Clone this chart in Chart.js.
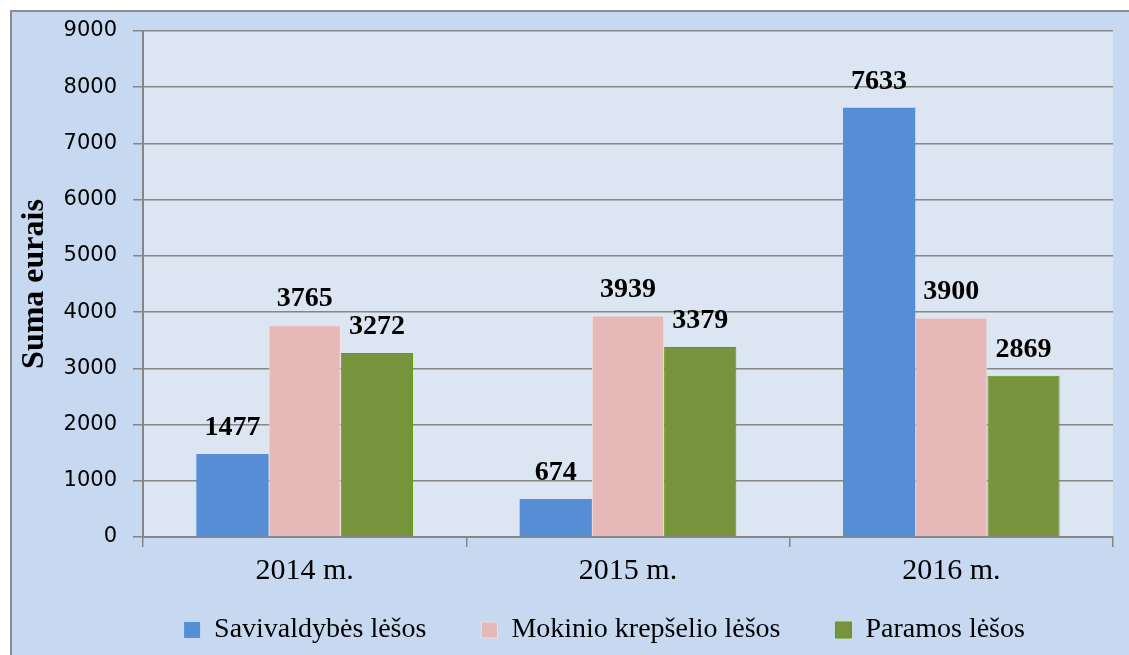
<!DOCTYPE html>
<html>
<head>
<meta charset="utf-8">
<script src="https://cdn.jsdelivr.net/npm/chart.js@4"></script>
<style>
  html, body { margin: 0; padding: 0; background: #fff; }
  #wrap { width: 1129px; height: 655px; }
</style>
</head>
<body>
<div id="wrap"><canvas id="myChart" width="1129" height="655"></canvas></div>
<script>
// values
var categories = ['2014 m.', '2015 m.', '2016 m.'];
var seriesNames = ['Savivaldybės lėšos', 'Mokinio krepšelio lėšos', 'Paramos lėšos'];
var savivaldybes = [1477, 674, 7633];
var krepselio = [3765, 3939, 3900];
var paramos = [3272, 3379, 2869];
var yMin = 0, yMax = 9000, yStep = 1000;
var yTitle = 'Suma eurais';

var gridGray = '#868686';

// outer panel, border and plot background
var panelBg = {
    id: 'panelBg',
    beforeDraw: function (chart) {
        var ctx = chart.ctx, a = chart.chartArea;
        ctx.save();
        ctx.fillStyle = '#ffffff';
        ctx.fillRect(0, 0, chart.width, chart.height);
        ctx.fillStyle = '#c6d9f1';
        ctx.fillRect(12, 12, chart.width - 12, chart.height - 12);
        ctx.fillStyle = '#8c8c8c';
        ctx.fillRect(10, 10, chart.width - 10, 2);
        ctx.fillRect(10, 10, 2, chart.height - 10);
        ctx.fillStyle = '#dce6f2';
        ctx.fillRect(a.left, a.top, a.right - a.left, a.bottom - a.top);
        ctx.restore();
    }
};

// legend sits a bit right of centre and closer to the axis labels
var legendNudge = {
    id: 'legendNudge',
    afterLayout: function (chart) {
        var l = chart.legend;
        l.left += 42;
        l.right += 42;
        l.top -= 46;
    }
};

// value labels above the bars
var barLabels = {
    id: 'barLabels',
    afterDatasetsDraw: function (chart) {
        var ctx = chart.ctx;
        ctx.save();
        ctx.font = 'bold 28px "Liberation Serif", serif';
        ctx.fillStyle = '#000';
        ctx.textAlign = 'center';
        ctx.textBaseline = 'alphabetic';
        chart.data.datasets.forEach(function (ds, i) {
            chart.getDatasetMeta(i).data.forEach(function (bar, j) {
                ctx.fillText(String(ds.data[j]), bar.x, bar.y - 19);
            });
        });
        ctx.restore();
    }
};

var ctx = document.getElementById('myChart').getContext('2d');
var myChart = new Chart(ctx, {
    type: 'bar',
    data: {
        labels: categories,
        datasets: [{
                label: seriesNames[0],
                data: savivaldybes,
                backgroundColor: '#558ed5',
                borderColor: '#558ed5',
                borderWidth: 0,
            },
            {
                label: seriesNames[1],
                data: krepselio,
                backgroundColor: '#e6b9b8',
                borderColor: '#f4dcdb',
                borderWidth: 1,
            },
            {
                label: seriesNames[2],
                data: paramos,
                backgroundColor: '#77933c',
                borderColor: '#5e9c0b',
                borderWidth: 1,
            },
        ]
    },
    options: {
        responsive: false,
        animation: false,
        devicePixelRatio: 1,
        categoryPercentage: 0.67,
        barPercentage: 1,
        layout: {
            padding: { left: 12, right: 16, top: 31, bottom: 0 }
        },
        plugins: {
            legend: {
                position: 'bottom',
                maxHeight: 48,
                labels: {
                    boxWidth: 16,
                    boxHeight: 16,
                    padding: 55,
                    color: '#000',
                    font: { family: '"Liberation Serif", serif', size: 28 }
                }
            },
            tooltip: { enabled: false }
        },
        scales: {
            x: {
                offset: true,
                afterFit: function (scale) { scale.height = 70; },
                grid: {
                    offset: true,
                    drawOnChartArea: false,
                    tickLength: 10,
                    color: gridGray,
                    lineWidth: 1.5
                },
                border: { color: gridGray, width: 2 },
                ticks: {
                    padding: 6,
                    color: '#000',
                    font: { family: '"Liberation Serif", serif', size: 30 }
                }
            },
            y: {
                min: yMin,
                max: yMax,
                afterFit: function (scale) { scale.width = 131; },
                grid: {
                    tickLength: 10,
                    color: gridGray,
                    lineWidth: 1.5
                },
                border: { color: gridGray, width: 2 },
                ticks: {
                    stepSize: yStep,
                    padding: 16,
                    color: '#000',
                    font: { family: '"DejaVu Sans", sans-serif', size: 21 },
                    callback: function (v) { return String(v); }
                },
                title: {
                    display: true,
                    text: yTitle,
                    color: '#000',
                    padding: { top: 4, bottom: 0 },
                    font: { family: '"Liberation Serif", serif', size: 32, weight: 'bold' }
                }
            }
        }
    },
    plugins: [panelBg, legendNudge, barLabels]
});
</script>
</body>
</html>
